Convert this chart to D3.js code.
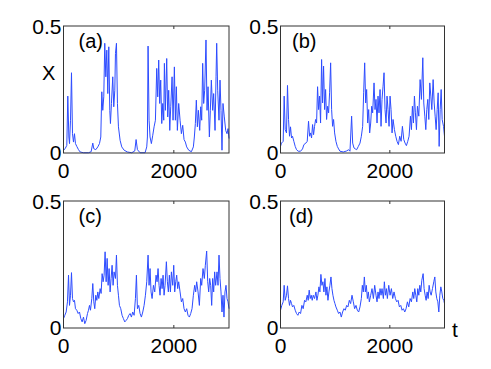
<!DOCTYPE html>
<html>
<head>
<meta charset="utf-8">
<script src="https://cdn.jsdelivr.net/npm/d3@7"></script>
<style>
  body { margin: 0; background: #fff; }
  svg { display: block; }
  text { font-family: "Liberation Sans", Arial, sans-serif; fill: #000; }
</style>
</head>
<body>
<svg width="491" height="369"></svg>
<script>
// time series: [t, X]
var seriesA = [[0,.011],[30,.017],[60,.03],[78,.224],[97,.063],[109,.037],[127,.129],[145,.316],[163,.076],[181,.043],[199,.076],[217,.037],[241,.026],[272,.013],[302,.004],[362,.001],[453,.001],[501,.005],[531,.039],[549,.017],[585,.013],[622,.024],[652,.037],[676,.063],[694,.241],[712,.168],[730,.221],[748,.432],[767,.3],[785,.405],[803,.234],[821,.418],[839,.168],[851,.116],[869,.195],[893,.3],[911,.182],[930,.247],[942,.392],[960,.432],[978,.195],[996,.103],[1026,.05],[1056,.024],[1099,.011],[1159,.004],[1237,.001],[1292,.008],[1316,.053],[1340,.013],[1388,.001],[1479,.001],[1509,.024],[1521,.063],[1533,.421],[1551,.129],[1569,.063],[1593,.037],[1618,.07],[1642,.103],[1666,.129],[1690,.333],[1708,.221],[1726,.366],[1744,.195],[1762,.287],[1781,.116],[1799,.195],[1817,.129],[1829,.353],[1847,.168],[1871,.372],[1889,.142],[1907,.247],[1926,.089],[1944,.182],[1968,.3],[1986,.129],[2010,.339],[2028,.129],[2046,.261],[2064,.089],[2088,.195],[2113,.129],[2137,.076],[2161,.109],[2185,.053],[2209,.043],[2233,.024],[2270,.011],[2318,.005],[2354,.024],[2372,.063],[2390,.116],[2408,.208],[2427,.103],[2445,.168],[2469,.089],[2487,.182],[2505,.129],[2523,.353],[2541,.195],[2559,.247],[2583,.445],[2602,.168],[2620,.261],[2644,.063],[2662,.168],[2680,.287],[2704,.168],[2722,.234],[2747,.089],[2765,.3],[2777,.432],[2795,.247],[2819,.129],[2837,.287],[2855,.168],[2873,.011],[2891,.195],[2915,.142],[2940,.089],[2964,.076],[2982,.096],[3000,.057]];

var seriesB = [[0,.026],[18,.039],[49,.046],[67,.224],[86,.092],[110,.079],[128,.266],[147,.132],[165,.066],[183,.103],[202,.059],[220,.066],[244,.046],[269,.026],[293,.013],[324,.007],[367,.007],[403,.016],[428,.033],[464,.039],[489,.046],[513,.125],[532,.066],[550,.079],[568,.059],[587,.112],[605,.072],[623,.105],[642,.132],[660,.118],[678,.261],[697,.171],[715,.224],[733,.118],[752,.368],[770,.197],[788,.342],[807,.171],[825,.25],[843,.132],[862,.184],[880,.158],[898,.237],[917,.355],[935,.171],[953,.105],[971,.132],[990,.079],[1014,.046],[1039,.026],[1063,.016],[1088,.007],[1149,.004],[1210,.008],[1246,.013],[1271,.007],[1301,.145],[1320,.039],[1344,.02],[1369,.016],[1393,.013],[1424,.026],[1454,.039],[1479,.066],[1503,.105],[1521,.237],[1540,.355],[1558,.197],[1576,.25],[1595,.118],[1613,.171],[1631,.079],[1650,.118],[1668,.184],[1686,.158],[1711,.276],[1729,.171],[1747,.211],[1766,.118],[1784,.224],[1802,.158],[1821,.25],[1839,.105],[1857,.211],[1876,.263],[1894,.316],[1912,.171],[1931,.118],[1949,.224],[1967,.171],[1986,.105],[2004,.224],[2022,.171],[2041,.079],[2059,.132],[2084,.092],[2108,.066],[2132,.046],[2157,.033],[2181,.066],[2206,.046],[2230,.105],[2255,.053],[2279,.039],[2303,.029],[2328,.046],[2352,.066],[2377,.145],[2395,.092],[2413,.184],[2432,.118],[2450,.224],[2468,.158],[2487,.092],[2505,.184],[2530,.145],[2554,.289],[2578,.211],[2603,.375],[2621,.197],[2640,.145],[2658,.092],[2676,.171],[2694,.211],[2713,.132],[2731,.276],[2750,.224],[2768,.171],[2792,.289],[2811,.197],[2829,.145],[2847,.092],[2866,.171],[2884,.237],[2902,.026],[2921,.171],[2939,.25],[2957,.132],[2982,.105],[3000,.066]];

var seriesC = [[0,.037],[24,.05],[48,.063],[72,.103],[91,.208],[109,.089],[127,.129],[145,.218],[163,.116],[181,.103],[199,.109],[217,.076],[241,.07],[266,.057],[290,.063],[314,.037],[338,.024],[362,.043],[386,.017],[410,.03],[435,.057],[453,.07],[471,.089],[489,.07],[513,.116],[531,.175],[549,.103],[567,.076],[585,.129],[604,.109],[622,.142],[640,.116],[664,.155],[682,.136],[700,.214],[718,.182],[736,.208],[754,.3],[773,.182],[791,.274],[809,.168],[827,.234],[845,.142],[863,.195],[881,.247],[899,.168],[917,.221],[942,.195],[960,.287],[978,.168],[996,.129],[1014,.089],[1038,.076],[1062,.05],[1086,.037],[1111,.024],[1135,.03],[1159,.037],[1183,.05],[1207,.057],[1231,.043],[1255,.063],[1280,.05],[1304,.116],[1322,.208],[1340,.076],[1364,.089],[1388,.057],[1412,.043],[1437,.063],[1461,.089],[1485,.129],[1509,.182],[1533,.287],[1551,.168],[1569,.234],[1587,.142],[1606,.116],[1630,.168],[1654,.142],[1678,.208],[1696,.182],[1714,.234],[1732,.168],[1750,.129],[1769,.195],[1787,.155],[1805,.208],[1823,.129],[1841,.168],[1865,.261],[1883,.182],[1901,.142],[1919,.208],[1938,.142],[1956,.221],[1980,.168],[1998,.247],[2016,.142],[2034,.182],[2052,.208],[2070,.155],[2088,.182],[2113,.142],[2137,.103],[2161,.116],[2185,.076],[2209,.063],[2233,.076],[2257,.05],[2282,.043],[2306,.057],[2330,.076],[2354,.129],[2378,.168],[2396,.142],[2414,.182],[2439,.142],[2463,.089],[2487,.195],[2505,.168],[2529,.234],[2553,.195],[2571,.247],[2595,.303],[2614,.182],[2632,.142],[2650,.195],[2668,.168],[2686,.089],[2704,.195],[2722,.142],[2740,.221],[2758,.168],[2783,.221],[2801,.168],[2819,.287],[2837,.195],[2855,.142],[2873,.063],[2891,.129],[2909,.043],[2927,.142],[2946,.168],[2964,.116],[2982,.103],[3000,.076]];

var seriesD = [[0,.07],[24,.089],[49,.103],[67,.168],[86,.109],[110,.129],[128,.166],[147,.116],[165,.089],[183,.109],[202,.096],[220,.083],[244,.089],[269,.07],[293,.057],[318,.05],[342,.063],[367,.057],[391,.089],[415,.076],[440,.109],[464,.103],[489,.129],[507,.109],[525,.149],[544,.116],[562,.129],[580,.109],[599,.129],[623,.116],[648,.142],[666,.109],[684,.129],[703,.162],[721,.142],[739,.211],[758,.168],[776,.182],[794,.142],[813,.195],[831,.129],[849,.162],[868,.109],[886,.142],[904,.168],[923,.201],[941,.155],[959,.129],[978,.109],[996,.096],[1014,.083],[1039,.07],[1063,.057],[1088,.063],[1112,.043],[1136,.063],[1161,.076],[1185,.07],[1210,.089],[1234,.083],[1259,.109],[1283,.096],[1308,.129],[1332,.103],[1356,.076],[1381,.089],[1405,.07],[1430,.063],[1454,.083],[1479,.116],[1497,.168],[1515,.142],[1534,.201],[1552,.142],[1570,.168],[1589,.116],[1607,.142],[1625,.103],[1650,.129],[1674,.155],[1699,.116],[1723,.168],[1747,.129],[1766,.103],[1784,.142],[1802,.116],[1821,.155],[1839,.129],[1857,.155],[1882,.116],[1900,.182],[1919,.129],[1937,.155],[1955,.116],[1980,.168],[2004,.129],[2029,.155],[2053,.116],[2077,.142],[2102,.116],[2126,.103],[2151,.109],[2175,.083],[2200,.089],[2224,.07],[2248,.076],[2273,.063],[2297,.076],[2322,.103],[2346,.083],[2371,.116],[2395,.103],[2420,.142],[2438,.116],[2456,.155],[2475,.129],[2493,.103],[2511,.155],[2530,.129],[2548,.168],[2566,.142],[2585,.188],[2609,.214],[2627,.155],[2646,.129],[2664,.109],[2682,.142],[2701,.116],[2719,.168],[2737,.142],[2756,.129],[2780,.155],[2804,.182],[2823,.201],[2841,.142],[2859,.116],[2878,.103],[2896,.063],[2914,.129],[2933,.162],[2951,.142],[2969,.116],[2988,.109],[3000,.096]];

var panelLabels = ['(a)', '(b)', '(c)', '(d)'];
var xTicks = [0, 2000];
var yTicks = [0, 0.5];
var xDomain = [0, 3000];
var yDomain = [0, 0.5];

var svg = d3.select('svg');

// panel boxes in pixels
var panels = [
  {data: seriesA, label: panelLabels[0], left: 63.5, top: 26, w: 165.5, h: 127, lx: 15},
  {data: seriesB, label: panelLabels[1], left: 280.5, top: 26, w: 164, h: 127, lx: 11.5},
  {data: seriesC, label: panelLabels[2], left: 63.5, top: 201, w: 165.5, h: 127, lx: 15},
  {data: seriesD, label: panelLabels[3], left: 280.5, top: 201, w: 164, h: 127, lx: 8.5}
];

panels.forEach(function (p) {
  var x = d3.scaleLinear().domain(xDomain).range([p.left, p.left + p.w]);
  var y = d3.scaleLinear().domain(yDomain).range([p.top + p.h, p.top]);

  var g = svg.append('g');

  var line = d3.line()
    .x(function (d) { return x(d[0]); })
    .y(function (d) { return y(d[1]); });

  g.append('path')
    .datum(p.data)
    .attr('d', line)
    .attr('fill', 'none')
    .attr('stroke', '#2d4cff')
    .attr('stroke-width', 1)
    .attr('stroke-linejoin', 'round');

  // box
  g.append('rect')
    .attr('x', p.left).attr('y', p.top)
    .attr('width', p.w).attr('height', p.h)
    .attr('fill', 'none')
    .attr('stroke', '#333')
    .attr('stroke-width', 1);

  // inward ticks, top and bottom
  xTicks.forEach(function (t) {
    g.append('line')
      .attr('x1', x(t)).attr('x2', x(t))
      .attr('y1', p.top + p.h).attr('y2', p.top + p.h - 3)
      .attr('stroke', '#333');
    g.append('line')
      .attr('x1', x(t)).attr('x2', x(t))
      .attr('y1', p.top).attr('y2', p.top + 3)
      .attr('stroke', '#333');
    g.append('text')
      .attr('x', x(t)).attr('y', p.top + p.h + 25)
      .attr('text-anchor', 'middle')
      .style('font-size', '21px')
      .text(d3.format('d')(t));
  });

  yTicks.forEach(function (v) {
    g.append('text')
      .attr('x', p.left - 2).attr('y', y(v) + (v === 0 ? 6.5 : 7.5))
      .attr('text-anchor', 'end')
      .style('font-size', '21px')
      .text(v === 0 ? '0' : '0.5');
  });

  g.append('text')
    .attr('x', p.left + p.lx).attr('y', p.top + 22)
    .style('font-size', '20px')
    .text(p.label);
});

svg.append('text')
  .attr('x', 42).attr('y', 80)
  .style('font-size', '20px')
  .text('X');

svg.append('text')
  .attr('x', 452).attr('y', 337)
  .style('font-size', '21px')
  .text('t');
</script>
</body>
</html>
